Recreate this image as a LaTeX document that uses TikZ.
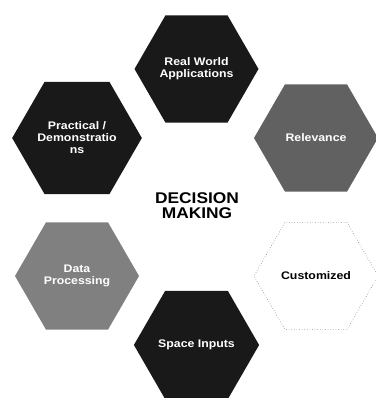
\documentclass[tikz,border=0pt]{standalone}
\usepackage{fontspec}
\setmainfont{Liberation Sans}[FakeStretch=1.12]
\usetikzlibrary{shapes.geometric}

\definecolor{darkhex}{gray}{0.1}
\definecolor{relhex}{gray}{0.38}
\definecolor{datahex}{gray}{0.5}

\tikzset{
  hexa/.style={regular polygon, regular polygon sides=6, minimum size=124pt,
    inner sep=0pt, text=white, align=center,
    font=\fontsize{11}{12}\selectfont\bfseries},
}

\begin{document}
\begin{tikzpicture}[x=1pt,y=1pt]
        \useasboundingbox (0,0) rectangle (375,398);

        \node[hexa, fill=darkhex] (apps) at (196.5,329) {Real World\\Applications};
        \node[hexa, fill=relhex] (relevance) at (316,260) {Relevance};
        \node[hexa, draw=gray, dotted, line width=0.6pt, text=black] (custom) at (316,122) {Customized};
        \node[hexa, fill=darkhex] (space) at (196.5,53) {Space Inputs};
        \node[hexa, fill=datahex] (data) at (77,122) {Data\\Processing};
        \node[hexa, fill=darkhex] (practical) at (77,260) {Practical /\\Demonstratio\\ns};

        % centre label
        \node[align=center, font=\fontsize{15.5}{15}\selectfont\bfseries] (decision) at (197,192) {DECISION\\MAKING};
    \end{tikzpicture}
\end{document}
